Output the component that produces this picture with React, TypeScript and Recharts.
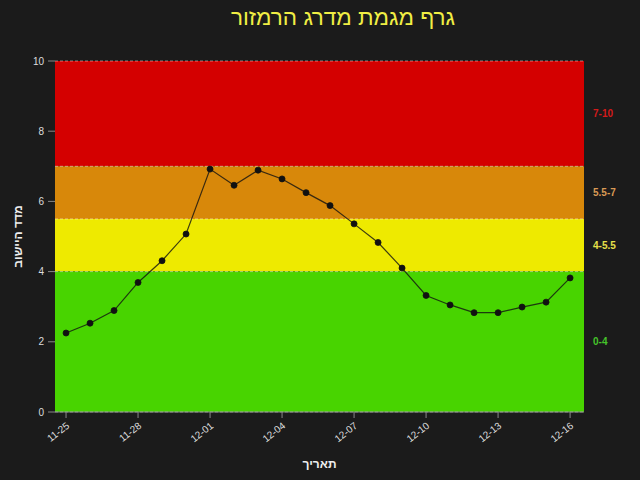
import React from "react";
import {
  LineChart,
  Line,
  XAxis,
  YAxis,
  ReferenceArea,
  ReferenceLine,
} from "recharts";

const dates = [
  "11-25", "11-26", "11-27", "11-28", "11-29", "11-30",
  "12-01", "12-02", "12-03", "12-04", "12-05", "12-06", "12-07", "12-08",
  "12-09", "12-10", "12-11", "12-12", "12-13", "12-14", "12-15", "12-16",
];

const scores = [
  2.25, 2.53, 2.89, 3.69, 4.31, 5.07,
  6.92, 6.46, 6.89, 6.64, 6.25, 5.88, 5.36, 4.83,
  4.1, 3.32, 3.05, 2.83, 2.83, 2.99, 3.13, 3.82,
];

const xTicks = [0, 3, 6, 9, 12, 15, 18, 21];
const leftTicks = [0, 2, 4, 6, 8, 10];
const rightTicks = [0, 4, 5.5, 7, 10];

const bands = [
  { from: 7, to: 10, label: "7-10", color: "#d40000", text: "#d41a1a" },
  { from: 5.5, to: 7, label: "5.5-7", color: "#d8880a", text: "#d99a55" },
  { from: 4, to: 5.5, label: "4-5.5", color: "#eeea00", text: "#e6e04a" },
  { from: 0, to: 4, label: "0-4", color: "#48d400", text: "#45c42a" },
];

const data = dates.map((d, i) => ({ idx: i, date: d, score: scores[i] }));

const FONT = "'Liberation Sans', Arial, sans-serif";

function DateTick({ x, y, payload }: any) {
  return (
    <text
      x={x + 4}
      y={y + 7}
      transform={`rotate(-38, ${x + 4}, ${y + 7})`}
      textAnchor="end"
      fill="#dddddd"
      fontSize={10}
      fontFamily={FONT}
    >
      {dates[payload.value]}
    </text>
  );
}

export default function App() {
  return (
    <div
      style={{
        position: "absolute",
        left: 0,
        top: 0,
        width: 640,
        height: 480,
        background: "#1b1b1b",
        fontFamily: FONT,
      }}
    >
      <div
        style={{
          position: "absolute",
          top: 5,
          left: 0,
          width: 686,
          textAlign: "center",
          color: "#f0ee44",
          fontSize: 22.5,
          direction: "rtl",
        }}
      >
        גרף מגמת מדרג הרמזור
      </div>
      <LineChart
        width={640}
        height={480}
        data={data}
        margin={{ top: 61, right: 0, bottom: 0, left: 0 }}
      >
        <XAxis
          dataKey="idx"
          type="number"
          domain={[-0.46, 21.58]}
          allowDataOverflow
          ticks={xTicks}
          tick={<DateTick />}
          height={68}
          tickSize={6}
          stroke="#888888"
          label={{
            value: "תאריך",
            position: "insideBottom",
            offset: 12,
            fill: "#eeeeee",
            fontSize: 12,
            fontWeight: "bold",
          }}
        />
        <YAxis
          yAxisId="left"
          domain={[0, 10]}
          ticks={leftTicks}
          width={55}
          axisLine={false}
          tickSize={7}
          tickMargin={4}
          stroke="#888888"
          tick={{ fill: "#dddddd", fontSize: 10 }}
          label={{
            value: "מדד היישוב",
            angle: -90,
            position: "center",
            dx: -10,
            fill: "#eeeeee",
            fontSize: 12,
            fontWeight: "bold",
          }}
        />
        <YAxis
          yAxisId="right"
          orientation="right"
          domain={[0, 10]}
          ticks={rightTicks}
          width={56}
          axisLine={false}
          tickSize={7}
          stroke="#888888"
          tick={false}
        />
        {bands.map((b) => (
          <ReferenceArea
            key={b.label}
            yAxisId="left"
            y1={b.from}
            y2={b.to}
            fill={b.color}
            fillOpacity={1}
            stroke="none"
            label={{
              value: b.label,
              position: "right",
              offset: 9,
              fill: b.text,
              fontSize: 10,
              fontWeight: "bold",
            }}
          />
        ))}
        {rightTicks.map((t) => (
          <ReferenceLine
            key={t}
            yAxisId="left"
            y={t}
            stroke="#ffffff"
            strokeOpacity={0.45}
            strokeDasharray="3 2"
          />
        ))}
        <Line
          yAxisId="left"
          dataKey="score"
          type="linear"
          stroke="#111111"
          strokeOpacity={0.8}
          strokeWidth={1.2}
          dot={{ r: 3, fill: "#111111", stroke: "#111111", strokeWidth: 1 }}
          isAnimationActive={false}
        />
      </LineChart>
    </div>
  );
}
